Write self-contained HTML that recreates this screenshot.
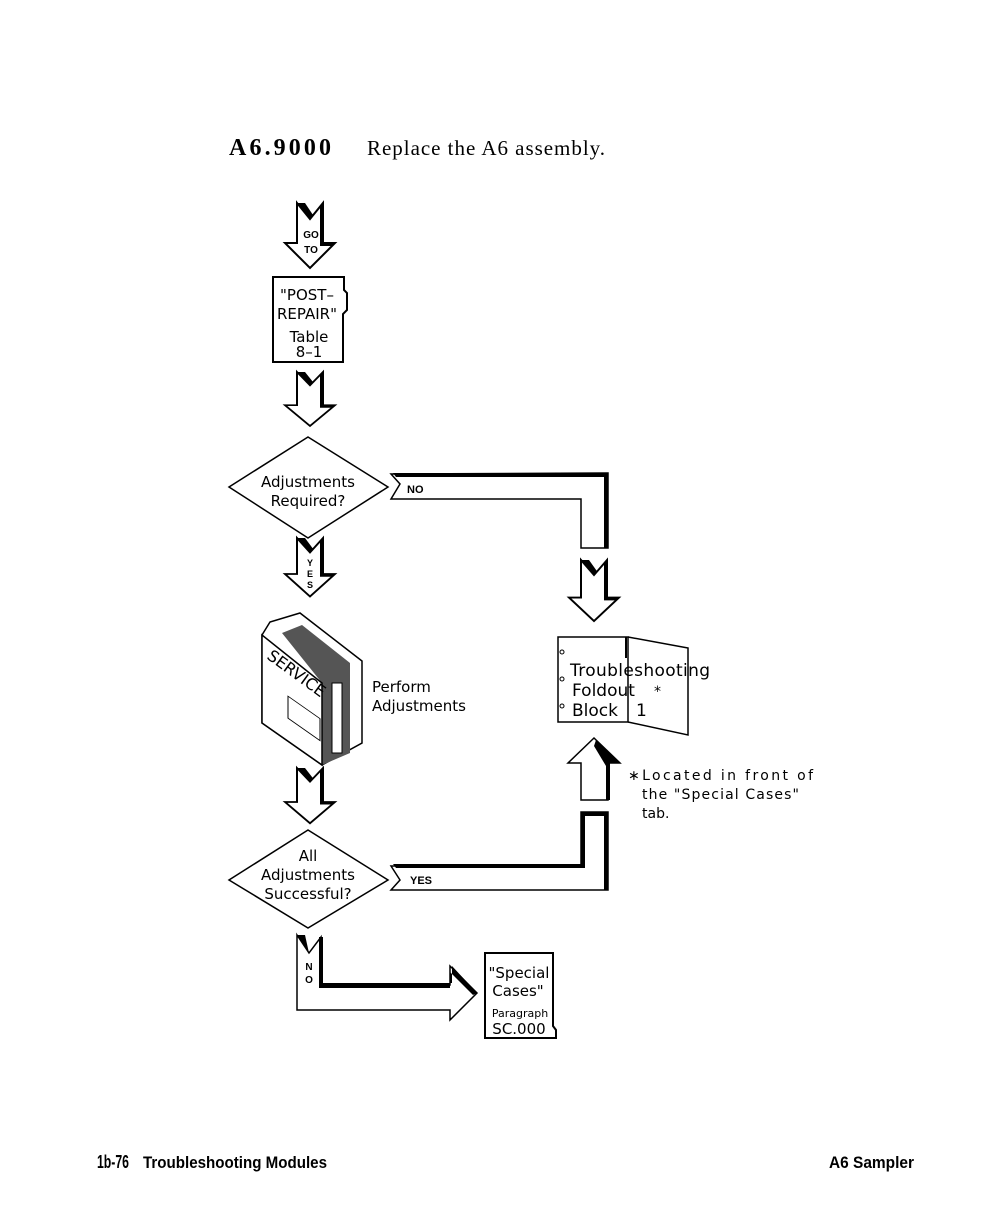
<!DOCTYPE html>
<html><head><meta charset="utf-8"><style>
body{margin:0;background:#fff}
svg{display:block}
.s{font-family:"DejaVu Sans","Liberation Sans",sans-serif;fill:#000}
.b{font-family:"Liberation Sans",sans-serif;font-weight:bold;fill:#000}
</style></head><body>
<svg width="1008" height="1224" viewBox="0 0 1008 1224" xmlns="http://www.w3.org/2000/svg">
<defs>
<g id="darr">
 <path d="M-13,0 L0,16 L13,0 L13,40 L25,40 L0,65 L-25,40 L-13,40 Z" fill="#fff" stroke="#000" stroke-width="2"/>
 <path d="M-13,0 L-5,0 L3,12 L0,16 Z" fill="#000"/>
 <path d="M13,0 L13,40 L25,40 L22,43 L10,43 L10,3 Z" fill="#000"/>
</g>
</defs>
<text x="229" y="155" font-family="Liberation Serif,serif" font-weight="bold" font-size="24" textLength="102">A6.9000</text>
<text x="367" y="155" font-family="Liberation Serif,serif" font-size="21" textLength="238">Replace the A6 assembly.</text>

<use href="#darr" transform="translate(310,203)"/>
<text x="311" y="238" class="b" font-size="10" text-anchor="middle">GO</text>
<text x="311" y="253" class="b" font-size="10" text-anchor="middle">TO</text>

<path d="M273,277 H344 V290 L347,293 V310 L343,314 V362 H273 Z" fill="#fff" stroke="#000" stroke-width="2"/>
<g class="s" font-size="15" text-anchor="middle">
<text x="307" y="300">"POST–</text><text x="307" y="319">REPAIR"</text>
<text x="309" y="342">Table</text><text x="309" y="357">8–1</text></g>

<use href="#darr" transform="translate(310,372) scale(1,0.83)"/>

<path d="M308,437 L388,487 L308,538 L229,487 Z" fill="#fff" stroke="#000" stroke-width="1.5"/>
<text x="308" y="487" class="s" font-size="15" text-anchor="middle">Adjustments</text>
<text x="308" y="506" class="s" font-size="15" text-anchor="middle">Required?</text>

<path d="M391,474 L400,484 L391,499 H581 V548 H608 V473 Z" fill="#fff" stroke="#000" stroke-width="1.5"/>
<path d="M393,473 H608 V548 H604 V477 H396 Z" fill="#000"/>
<text x="407" y="493" class="b" font-size="11">NO</text>

<use href="#darr" transform="translate(310,538) scale(1,0.9)"/>
<g class="b" font-size="9" text-anchor="middle"><text x="310" y="566">Y</text><text x="310" y="577">E</text><text x="310" y="588">S</text></g>

<use href="#darr" transform="translate(594,560) scale(1,0.94)"/>

<path d="M558,637 H628 V722 H558 Z" fill="#fff" stroke="#000" stroke-width="1.5"/>
<path d="M628,637 L688,648 V735 L628,722" fill="none" stroke="#000" stroke-width="1.5"/>
<line x1="626" y1="637" x2="626" y2="658" stroke="#000" stroke-width="2"/>
<circle cx="562" cy="652" r="2" fill="none" stroke="#000"/><circle cx="562" cy="679" r="2" fill="none" stroke="#000"/><circle cx="562" cy="706" r="2" fill="none" stroke="#000"/>
<text x="570" y="676" class="s" font-size="17" textLength="140">Troubleshooting</text>
<text x="572" y="696" class="s" font-size="17">Foldout</text><text x="654" y="696" class="s" font-size="14">*</text>
<text x="572" y="716" class="s" font-size="17">Block</text><text x="636" y="716" class="s" font-size="17">1</text>

<path d="M581,800 V763 H568 L594,738 L620,763 H608 V800 Z" fill="#fff" stroke="#000" stroke-width="1.5"/>
<path d="M596,740 L620,763 H610 V800 H606 V766 L594,746 Z" fill="#000"/>

<text x="628" y="780" class="s" font-size="14" textLength="185">∗Located  in  front  of</text>
<text x="642" y="799" class="s" font-size="14" textLength="157">the  "Special  Cases"</text>
<text x="642" y="818" class="s" font-size="14">tab.</text>

<path d="M391,866 L400,880 L391,890 H608 V812 H581 V866 Z" fill="#fff" stroke="#000" stroke-width="1.5"/>
<path d="M393,864 H581 V812 H608 V890 H604 V816 H585 V868 H396 Z" fill="#000"/>
<text x="410" y="884" class="b" font-size="11">YES</text>

<g transform="translate(262,613)">
 <path d="M0,22 L8,9 L38,0 L100,48 V130 L60,152 L0,110 Z" fill="#fff" stroke="#000" stroke-width="1.5"/>
 <path d="M20,20 L40,12 L88,50 L88,140 L60,152 V70 Z" fill="#555"/>
 <path d="M0,22 L60,70 V152 L0,110 Z" fill="#fff" stroke="#000" stroke-width="1.5"/>
 <rect x="26" y="105" width="32" height="22" transform="skewY(35) translate(0,-40)" fill="#fff" stroke="#000"/>
 <text x="4" y="45" class="s" font-size="16" transform="rotate(36 4 45)">SERVICE</text>
 <path d="M70,70 H80 V140 H70 Z" fill="#fff" stroke="#000"/>
</g>
<text x="372" y="692" class="s" font-size="15">Perform</text>
<text x="372" y="711" class="s" font-size="15">Adjustments</text>

<use href="#darr" transform="translate(310,768) scale(1,0.85)"/>

<path d="M308,830 L388,880 L308,928 L229,880 Z" fill="#fff" stroke="#000" stroke-width="1.5"/>
<g class="s" font-size="15" text-anchor="middle"><text x="308" y="861">All</text><text x="308" y="880">Adjustments</text><text x="308" y="899">Successful?</text></g>

<path d="M297,935 L309,953 L321,937 V985 H450 V966 L477,993 L450,1020 V1010 H297 Z" fill="#fff" stroke="#000" stroke-width="1.5"/>
<path d="M297,935 L305,935 L309,953 Z" fill="#000"/>
<path d="M319,937 H323 V983 H452 V966 L477,993 L473,995 L450,972 V988 H319 Z" fill="#000"/>
<g class="b" font-size="10" text-anchor="middle"><text x="309" y="970">N</text><text x="309" y="983">O</text></g>

<path d="M485,953 H553 V1026 L556,1030 V1038 H485 Z" fill="#fff" stroke="#000" stroke-width="2"/>
<g class="s" text-anchor="middle"><text x="519" y="978" font-size="15">"Special</text><text x="518" y="996" font-size="15">Cases"</text>
<text x="520" y="1017" font-size="11">Paragraph</text><text x="519" y="1034" font-size="15">SC.000</text></g>

<text x="97" y="1168" class="b" font-size="18" textLength="32" lengthAdjust="spacingAndGlyphs">1b-76</text>
<text x="143" y="1168" class="b" font-size="17" textLength="184" lengthAdjust="spacingAndGlyphs">Troubleshooting Modules</text>
<text x="829" y="1168" class="b" font-size="17" textLength="85" lengthAdjust="spacingAndGlyphs">A6 Sampler</text>
</svg>
</body></html>
